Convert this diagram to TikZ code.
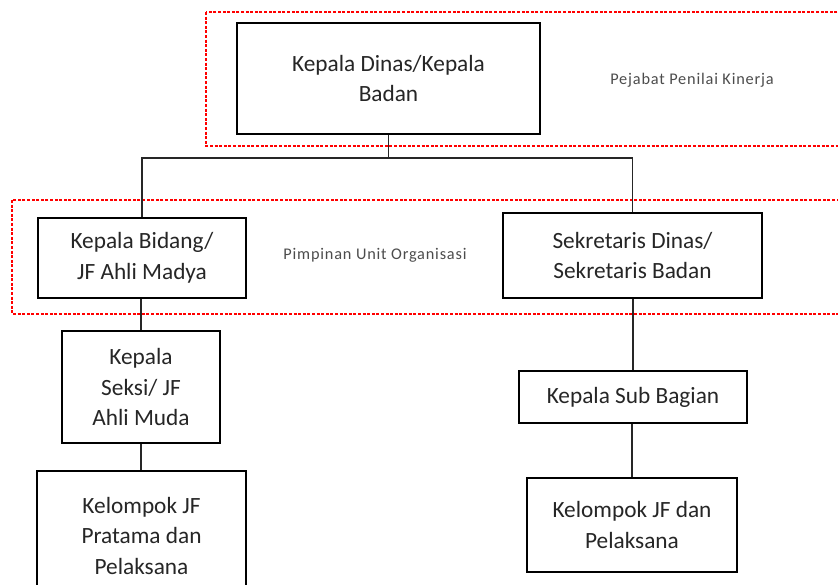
\documentclass[tikz,border=0pt]{standalone}
\usepackage{fontspec}
\usetikzlibrary{calc}
\setmainfont{Carlito}
\newfontfamily\notefont[LetterSpace=5]{Carlito}
\begin{document}
\begin{tikzpicture}[x=1pt,y=1pt,
  orgbox/.style={draw=black, line width=1.7pt, fill=white, inner sep=2pt,
    align=center, text=black!85, font=\fontsize{23.3}{30.5}\selectfont},
  zone/.style={draw=red, line width=1.3pt, dash pattern=on 3pt off 1.6pt},
  note/.style={text=black!70, font=\notefont\fontsize{16.3}{19}\selectfont},
  link/.style={draw=black!85, line width=1.7pt}]
\useasboundingbox (0,0) rectangle (838,-585);

% dashed zones
\draw[zone] (206,-12) rectangle (850,-146);
\draw[zone] (12,-200) rectangle (850,-314);

% zone labels
\node[note] (pejabat) at (692,-80) {Pejabat Penilai Kinerja};
\node[note] (pimpinan) at (375,-255) {Pimpinan Unit Organisasi};

% boxes
\node[orgbox, minimum width=303, minimum height=111] (kadis) at (388.5,-78.5)
  {Kepala Dinas/Kepala\\Badan};
\node[orgbox, minimum width=208, minimum height=80] (bidang) at (142,-258)
  {Kepala Bidang/\\JF Ahli Madya};
\node[orgbox, minimum width=158, minimum height=112] (seksi) at (141,-387)
  {Kepala\\Seksi/ JF\\Ahli Muda};
\node[orgbox, minimum width=259, minimum height=85] (sekr) at (632.5,-255.5)
  {Sekretaris Dinas/\\Sekretaris Badan};
\node[orgbox, minimum width=209, minimum height=129] (kelA) at (141.5,-535.5)
  {Kelompok JF\\Pratama dan\\Pelaksana};
\node[orgbox, minimum width=228, minimum height=52] (subbag) at (633,-397)
  {Kepala Sub Bagian};
\node[orgbox, minimum width=210, minimum height=94] (kelB) at (632,-525)
  {Kelompok JF dan\\Pelaksana};

% connectors
\coordinate (fork) at ($(kadis.south)+(0,-23)$);
\draw[link] (kadis.south) -- (fork) -| (bidang.north);
\draw[link] (fork) -| (sekr.north);
\draw[link] (seksi.north) -- (seksi.north |- bidang.south);
\draw[link] (seksi.south) -- (seksi.south |- kelA.north);
\draw[link] (subbag.north) -- (subbag.north |- sekr.south);
\draw[link] (kelB.north) -- (kelB.north |- subbag.south);
\end{tikzpicture}
\end{document}
